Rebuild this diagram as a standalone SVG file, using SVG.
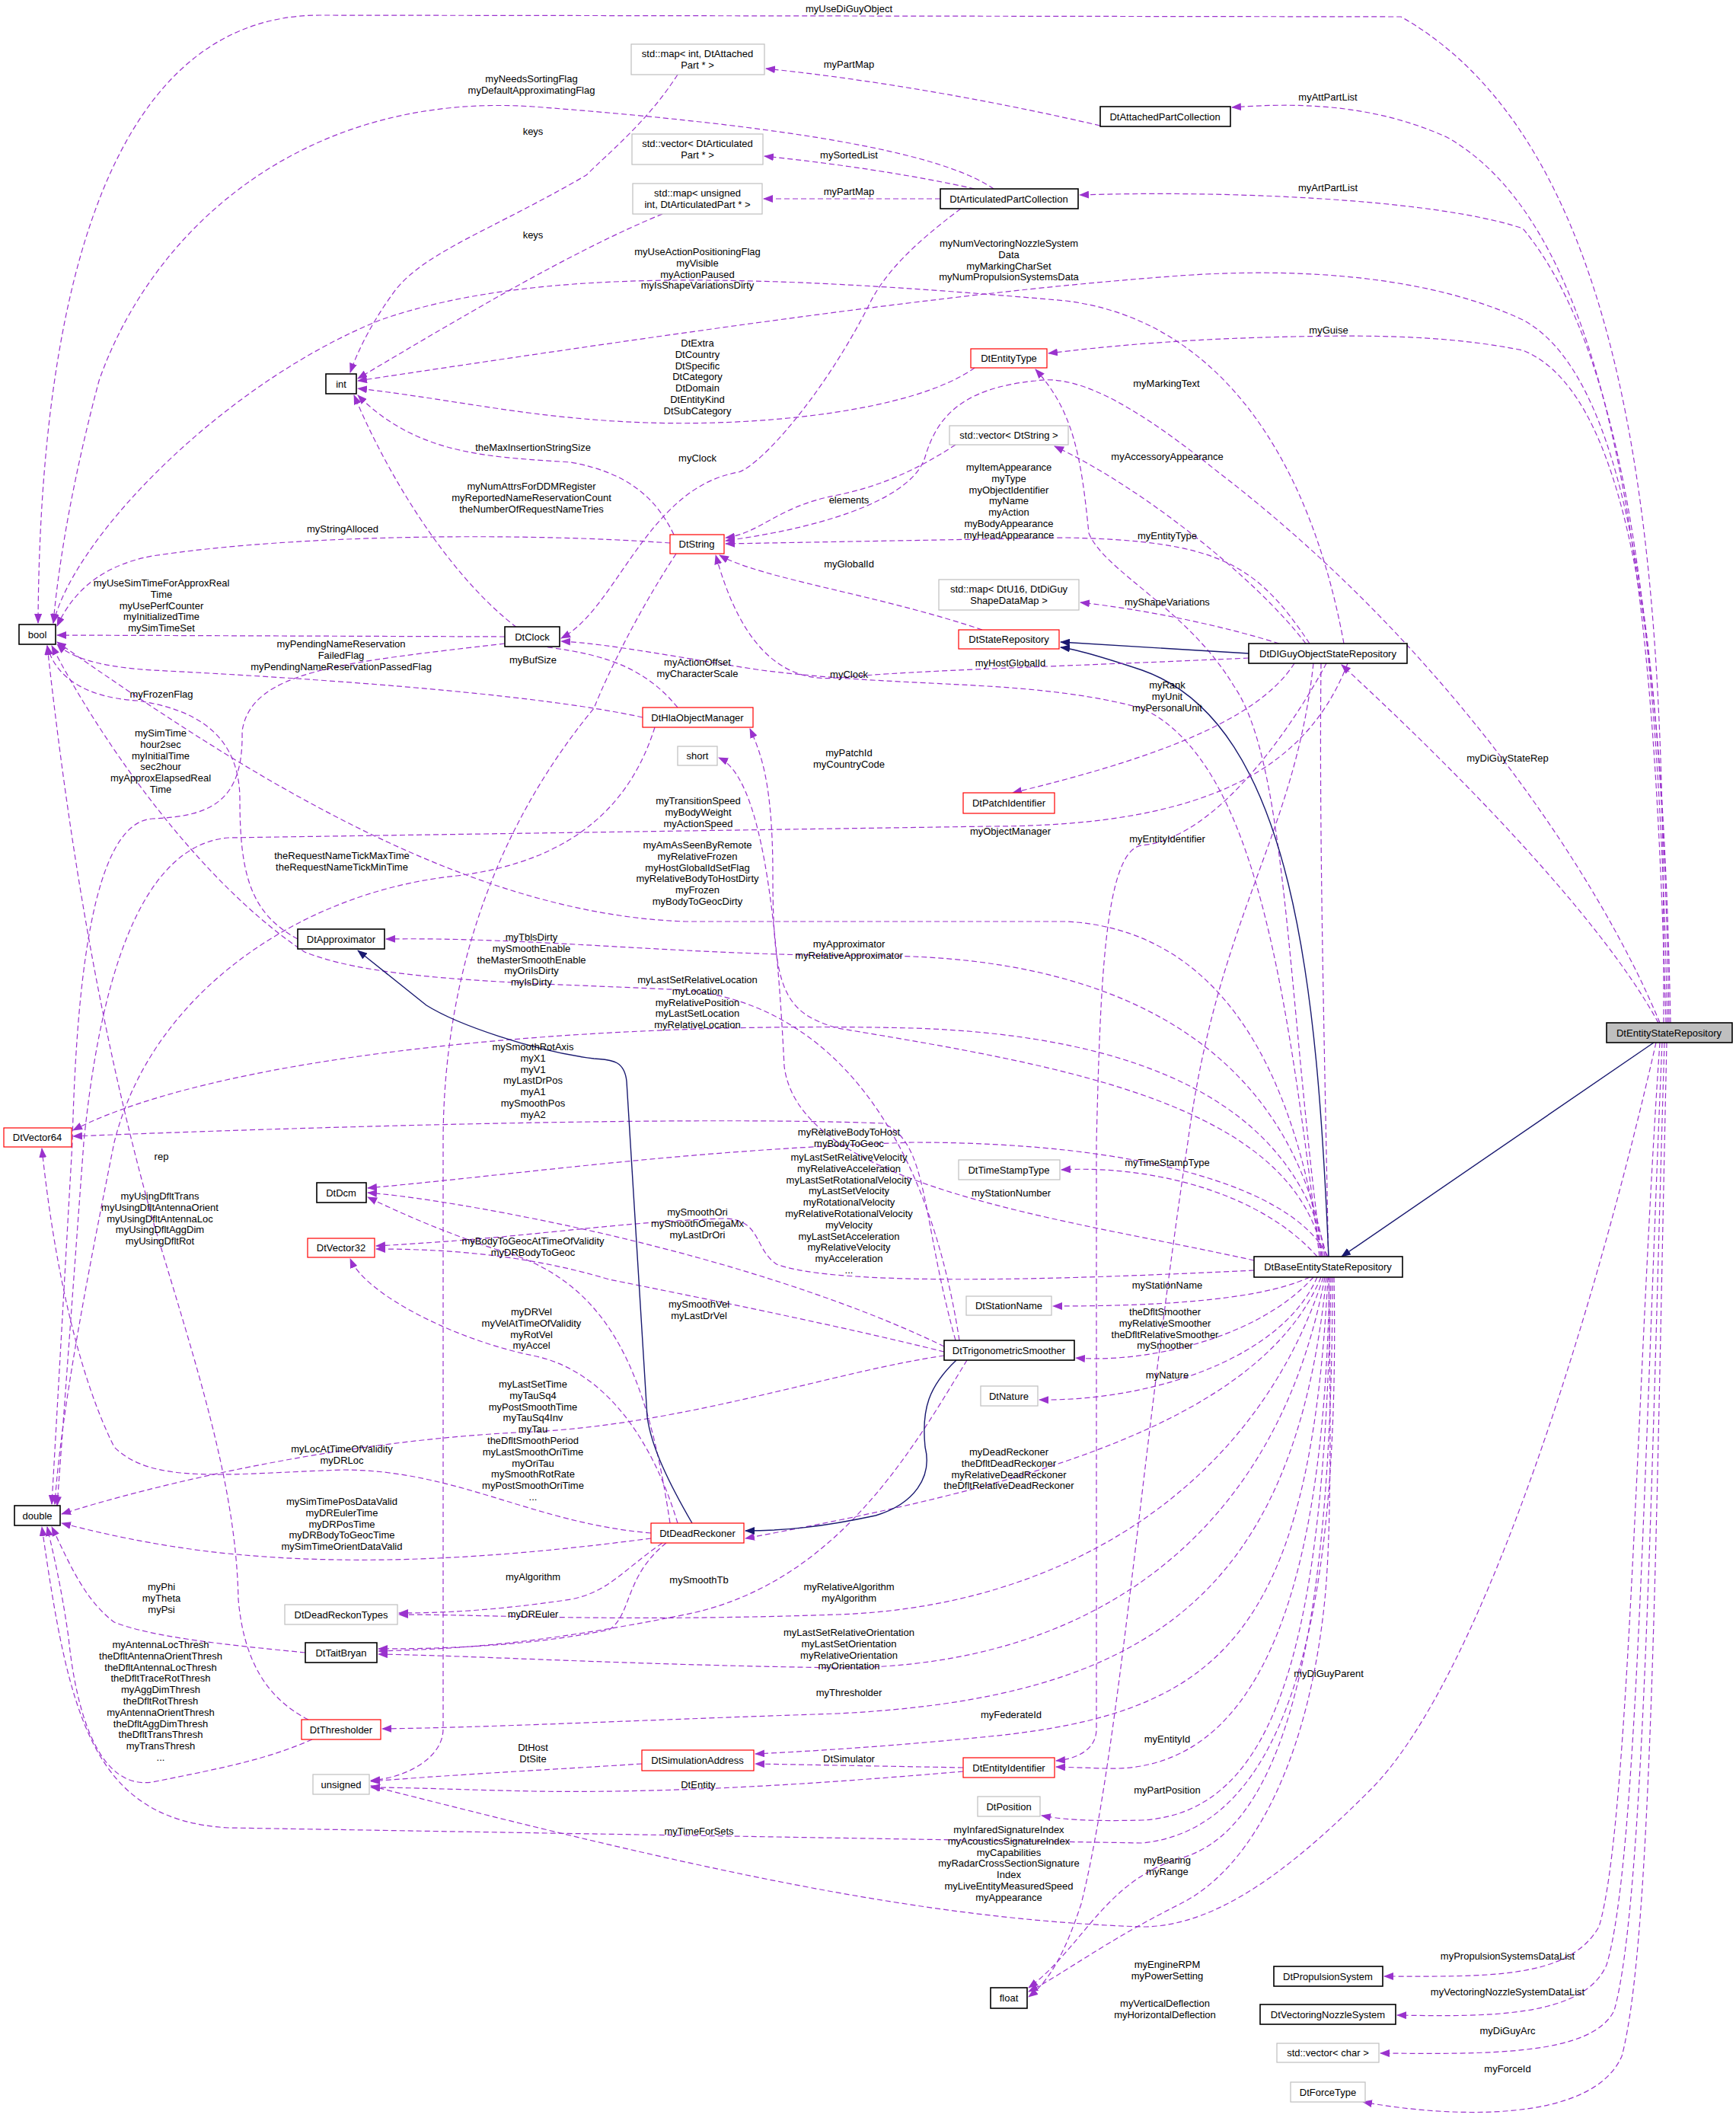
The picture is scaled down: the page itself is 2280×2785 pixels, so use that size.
<svg xmlns="http://www.w3.org/2000/svg" width="2280" height="2785" viewBox="0 0 2280 2785">
<style>
text{font-family:"Liberation Sans",Arial,sans-serif;font-size:13px;fill:#000}
.l{text-anchor:middle}
.n text{text-anchor:middle}
.bk{fill:#fff;stroke:#000;stroke-width:1.6}
.rd{fill:#fff;stroke:#ff0000;stroke-width:1.2}
.gy{fill:#fff;stroke:#bfbfbf;stroke-width:1.2}
.cur{fill:#bfbfbf;stroke:#000;stroke-width:1.6}
.e{fill:none;stroke:#9a32cd;stroke-width:1.2;stroke-dasharray:7,4;marker-end:url(#a)}
.i{fill:none;stroke:#191970;stroke-width:1.4;marker-end:url(#nv)}
</style>
<defs>
<marker id="a" markerUnits="userSpaceOnUse" markerWidth="13" markerHeight="10" refX="12" refY="5" orient="auto"><path d="M0,0 L13,5 L0,10 z" fill="#9a32cd"/></marker>
<marker id="nv" markerUnits="userSpaceOnUse" markerWidth="13" markerHeight="10" refX="12" refY="5" orient="auto"><path d="M0,0 L13,5 L0,10 z" fill="#191970"/></marker>
</defs>
<rect width="2280" height="2785" fill="#fff"/>
<g id="connectors">
<path class="e" d="M2185,1343 C2185,900 2190,220 1840,22 L420,20 C120,20 52,450 50,818"/>
<path class="e" d="M2188,1343 C2175,900 2150,320 1900,180 C1800,135 1700,135 1618,141"/>
<path class="e" d="M2190,1343 C2180,900 2150,480 2000,300 C1880,260 1600,250 1418,256"/>
<path class="e" d="M2192,1343 C2185,900 2150,500 2000,420 C1850,350 1650,355 1550,362 C1300,380 1000,420 470,500"/>
<path class="e" d="M2194,1343 C2185,900 2150,520 2000,460 C1900,440 1800,440 1700,442 C1550,445 1450,455 1377,464"/>
<path class="e" d="M2180,1343 C2100,1150 1900,850 1600,620 C1500,540 1420,490 1360,500 C1260,510 1230,550 1215,600 C1200,650 1100,690 953,710"/>
<path class="e" d="M2178,1343 C2100,1200 1900,1000 1762,873"/>
<path class="i" d="M2172,1369 L1762,1650"/>
<path class="e" d="M2180,1369 C2150,1800 2140,2400 2100,2530 C2060,2600 1950,2595 1818,2595"/>
<path class="e" d="M2183,1369 C2160,1900 2150,2450 2110,2580 C2080,2650 1950,2648 1835,2646"/>
<path class="e" d="M2186,1369 C2170,1900 2160,2500 2120,2640 C2090,2700 1950,2697 1813,2696"/>
<path class="e" d="M2189,1369 C2175,2000 2170,2550 2130,2700 C2090,2790 1900,2780 1790,2760"/>
<path class="e" d="M2175,1369 C2100,1700 1950,2200 1800,2350 C1700,2450 1600,2530 1500,2530 C1200,2520 900,2450 487,2345"/>
<path class="e" d="M1735,871 C1730,1300 1760,1900 1740,2100 C1720,2300 1650,2450 1550,2500 C1450,2550 1400,2590 1351,2615"/>
<path class="e" d="M1725,871 C1700,1100 1600,1200 1560,1500 C1500,1900 1470,2300 1420,2500 C1400,2560 1380,2600 1351,2622"/>
<path class="e" d="M1735,1650 C1700,1400 1600,1220 1400,1210 L900,1210 C600,1200 300,1000 75,843"/>
<path class="e" d="M1738,1650 C1700,1450 1400,1400 1100,1350 C1030,1330 1015,1300 1015,1150 C1015,1030 1000,990 985,957"/>
<path class="e" d="M1740,1650 C1700,1400 1500,1255 1150,1255 C900,1255 700,1230 507,1233"/>
<path class="e" d="M1742,1650 C1700,1450 1500,1360 1200,1350 C800,1340 300,1380 96,1484"/>
<path class="e" d="M1744,1650 C1700,1560 1500,1500 1200,1500 C900,1510 700,1540 483,1560"/>
<path class="e" d="M1647,1668 C1400,1680 1100,1690 1020,1660 C990,1640 1000,1600 950,1600 C800,1605 700,1625 494,1636"/>
<path class="e" d="M1730,1650 C1650,1560 1500,1530 1394,1536"/>
<path class="e" d="M1647,1655 C1400,1600 1050,1560 1030,1400 C1020,1200 1000,1020 944,995"/>
<path class="e" d="M1720,1677 C1650,1710 1500,1715 1383,1715"/>
<path class="e" d="M1725,1677 C1650,1760 1500,1790 1413,1783"/>
<path class="e" d="M1730,1677 C1680,1790 1500,1840 1365,1838"/>
<path class="e" d="M1735,1677 C1650,1880 1300,1960 979,2020"/>
<path class="e" d="M1738,1677 C1650,1950 1400,2110 1100,2120 C800,2130 650,2120 524,2120"/>
<path class="e" d="M1740,1677 C1680,2000 1450,2190 1100,2190 C800,2185 650,2175 497,2172"/>
<path class="e" d="M1742,1677 C1700,2100 1500,2230 1100,2250 C800,2260 650,2268 502,2270"/>
<path class="e" d="M1744,1677 C1720,2150 1600,2250 1300,2280 C1150,2295 1050,2300 992,2303"/>
<path class="e" d="M1746,1677 C1740,2100 1650,2330 1450,2322 L1387,2320"/>
<path class="e" d="M1748,1677 C1740,2150 1680,2380 1500,2390 C1420,2392 1390,2388 1368,2384"/>
<path class="e" d="M1750,1677 C1750,2100 1700,2400 1550,2440 C1450,2470 1420,2560 1351,2610"/>
<path class="e" d="M1752,1677 C1760,2100 1700,2400 1500,2420 L300,2400 C120,2390 90,2250 55,2005"/>
<path class="e" d="M1736,1650 C1690,1300 1690,1000 1620,900 C1560,800 1450,750 1430,700 C1420,600 1410,540 1360,485"/>
<path class="e" d="M1733,1650 C1690,1300 1650,1000 1500,930 C1350,890 1200,905 1000,880 C900,865 800,845 737,842"/>
<path class="i" d="M1745,1650 C1730,1300 1700,950 1500,880 C1440,860 1410,852 1393,850"/>
<path class="i" d="M1640,858 L1393,843"/>
<path class="e" d="M1680,845 C1600,820 1500,800 1419,791"/>
<path class="e" d="M1765,845 C1720,600 1600,420 1400,395 C1000,360 700,350 500,420 C300,500 100,700 70,818"/>
<path class="e" d="M1720,845 C1650,740 1600,710 1400,706 L953,714"/>
<path class="e" d="M1715,845 C1650,760 1500,640 1385,586"/>
<path class="e" d="M1700,871 C1650,950 1500,1000 1330,1041"/>
<path class="e" d="M1742,871 C1700,950 1600,1100 1500,1110 C1450,1115 1445,1300 1440,1500 L1440,2270 C1440,2300 1410,2310 1387,2312"/>
<path class="e" d="M1640,864 C1400,875 1200,880 1100,890 C1000,900 960,800 940,729"/>
<path class="e" d="M1770,871 C1720,1000 1600,1085 1300,1085 L300,1100 C180,1110 130,1300 110,1500 L75,1977"/>
<path class="e" d="M1445,165 C1250,120 1100,100 1006,90"/>
<path class="e" d="M1280,248 C1200,230 1100,215 1004,205"/>
<path class="e" d="M1235,261 L1003,261"/>
<path class="e" d="M1305,248 C1250,210 1100,170 700,140 C400,120 200,300 130,500 C90,650 75,760 70,818"/>
<path class="e" d="M1262,274 C1200,320 1160,360 1140,403 C1080,520 1000,610 970,620 C850,640 810,800 737,838"/>
<path class="e" d="M890,98 C850,160 800,200 770,230 C650,300 560,330 520,380 C490,420 470,460 460,489"/>
<path class="e" d="M870,281 C750,330 600,420 470,497"/>
<path class="e" d="M1280,483 C1200,540 1000,560 850,555 C700,550 600,525 470,510"/>
<path class="e" d="M885,702 C860,650 820,620 750,607 C650,600 550,600 470,519"/>
<path class="e" d="M890,929 C850,880 800,860 720,850 C620,800 520,650 465,519"/>
<path class="e" d="M1255,584 C1200,620 1150,640 1100,650 C1020,665 1000,700 953,706"/>
<path class="e" d="M1290,827 C1150,780 1000,760 945,729"/>
<path class="e" d="M880,713 C700,700 400,700 200,730 C120,745 90,790 75,822"/>
<path class="e" d="M663,836 L75,834"/>
<path class="e" d="M844,942 C700,910 400,890 200,880 C120,875 90,860 75,846"/>
<path class="e" d="M888,727 C840,800 800,880 780,930 C640,1100 582,1300 582,1500 L582,2270 C582,2310 530,2335 487,2338"/>
<path class="e" d="M663,845 C450,870 330,880 318,960 C320,1050 280,1072 200,1075 C120,1080 100,1300 95,1500 L68,1975"/>
<path class="e" d="M860,955 C830,1050 760,1130 600,1150 C400,1170 200,1300 150,1500 C120,1650 80,1850 72,1975"/>
<path class="e" d="M391,1233 C330,1200 315,1150 315,1050 C315,960 250,930 180,920 C100,915 70,880 62,848"/>
<path class="e" d="M1260,1760 C1220,1500 1100,1320 900,1300 C700,1290 500,1290 400,1250 C250,1150 120,950 68,848"/>
<path class="e" d="M1255,1760 C1210,1600 1220,1500 1160,1475 C900,1465 400,1480 96,1492"/>
<path class="e" d="M1240,1768 C1100,1700 900,1640 700,1600 C600,1580 530,1570 483,1566"/>
<path class="e" d="M1240,1775 C1100,1740 900,1700 800,1680 C700,1650 600,1640 494,1640"/>
<path class="e" d="M1240,1780 C1100,1800 900,1870 700,1880 C450,1890 200,1950 81,1988"/>
<path class="e" d="M1270,1786 C1200,1900 1100,2080 900,2120 C700,2160 600,2165 497,2168"/>
<path class="e" d="M855,2013 C700,2000 600,1930 450,1930 C300,1935 200,1950 150,1900 C100,1800 70,1650 55,1508"/>
<path class="e" d="M855,2020 C700,2040 500,2060 300,2040 C200,2030 120,2010 81,2000"/>
<path class="e" d="M880,2000 C850,1800 800,1680 650,1640 C560,1610 500,1580 483,1572"/>
<path class="e" d="M890,2000 C860,1900 800,1800 700,1780 C600,1760 480,1700 460,1653"/>
<path class="e" d="M870,2026 C820,2060 800,2090 750,2100 C650,2115 580,2118 524,2118"/>
<path class="e" d="M875,2026 C820,2070 830,2120 800,2140 C700,2160 600,2165 497,2165"/>
<path class="i" d="M909,2000 C880,1950 855,1900 850,1860 L823,1420 C820,1390 800,1392 780,1390 C700,1380 600,1345 560,1320 L470,1248"/>
<path class="i" d="M1256,1786 C1220,1820 1210,1850 1215,1900 C1225,1940 1200,1975 1150,1990 C1080,2005 1030,2010 979,2010"/>
<path class="e" d="M401,2170 C300,2160 200,2150 150,2130 C110,2100 90,2050 68,2005"/>
<path class="e" d="M410,2284 C350,2310 300,2320 200,2340 C130,2350 100,2250 90,2150 C80,2080 70,2040 62,2005"/>
<path class="e" d="M405,2258 C350,2230 320,2180 313,2100 C310,1950 260,1800 200,1600 C130,1350 90,1100 62,848"/>
<path class="e" d="M843,2316 C700,2325 600,2330 487,2339"/>
<path class="e" d="M1265,2321 L992,2316"/>
<path class="e" d="M1265,2326 C1100,2340 900,2355 700,2352 C600,2350 540,2347 487,2347"/>
</g>
<g id="labels" class="l">
<text class="l" x="1115" y="16">myUseDiGuyObject</text>
<text class="l" x="1115" y="89">myPartMap</text>
<text class="l" x="698" y="108">myNeedsSortingFlag<tspan x="698" dy="14.8">myDefaultApproximatingFlag</tspan></text>
<text class="l" x="700" y="177">keys</text>
<text class="l" x="1115" y="208">mySortedList</text>
<text class="l" x="1115" y="256">myPartMap</text>
<text class="l" x="700" y="313">keys</text>
<text class="l" x="1325" y="324">myNumVectoringNozzleSystem<tspan x="1325" dy="14.8">Data</tspan><tspan x="1325" dy="14.8">myMarkingCharSet</tspan><tspan x="1325" dy="14.8">myNumPropulsionSystemsData</tspan></text>
<text class="l" x="916" y="335">myUseActionPositioningFlag<tspan x="916" dy="14.8">myVisible</tspan><tspan x="916" dy="14.8">myActionPaused</tspan><tspan x="916" dy="14.8">myIsShapeVariationsDirty</tspan></text>
<text class="l" x="1744" y="132">myAttPartList</text>
<text class="l" x="1744" y="251">myArtPartList</text>
<text class="l" x="1745" y="438">myGuise</text>
<text class="l" x="916" y="455">DtExtra<tspan x="916" dy="14.8">DtCountry</tspan><tspan x="916" dy="14.8">DtSpecific</tspan><tspan x="916" dy="14.8">DtCategory</tspan><tspan x="916" dy="14.8">DtDomain</tspan><tspan x="916" dy="14.8">DtEntityKind</tspan><tspan x="916" dy="14.8">DtSubCategory</tspan></text>
<text class="l" x="1532" y="508">myMarkingText</text>
<text class="l" x="700" y="592">theMaxInsertionStringSize</text>
<text class="l" x="916" y="606">myClock</text>
<text class="l" x="1533" y="604">myAccessoryAppearance</text>
<text class="l" x="1325" y="618">myItemAppearance<tspan x="1325" dy="14.8">myType</tspan><tspan x="1325" dy="14.8">myObjectIdentifier</tspan><tspan x="1325" dy="14.8">myName</tspan><tspan x="1325" dy="14.8">myAction</tspan><tspan x="1325" dy="14.8">myBodyAppearance</tspan><tspan x="1325" dy="14.8">myHeadAppearance</tspan></text>
<text class="l" x="698" y="643">myNumAttrsForDDMRegister<tspan x="698" dy="14.8">myReportedNameReservationCount</tspan><tspan x="698" dy="14.8">theNumberOfRequestNameTries</tspan></text>
<text class="l" x="1115" y="661">elements</text>
<text class="l" x="450" y="699">myStringAlloced</text>
<text class="l" x="1533" y="708">myEntityType</text>
<text class="l" x="1115" y="745">myGlobalId</text>
<text class="l" x="212" y="770">myUseSimTimeForApproxReal<tspan x="212" dy="14.8">Time</tspan><tspan x="212" dy="14.8">myUsePerfCounter</tspan><tspan x="212" dy="14.8">myInitializedTime</tspan><tspan x="212" dy="14.8">mySimTimeSet</tspan></text>
<text class="l" x="1533" y="795">myShapeVariations</text>
<text class="l" x="448" y="850">myPendingNameReservation<tspan x="448" dy="14.8">FailedFlag</tspan><tspan x="448" dy="14.8">myPendingNameReservationPassedFlag</tspan></text>
<text class="l" x="700" y="871">myBufSize</text>
<text class="l" x="916" y="874">myActionOffset<tspan x="916" dy="14.8">myCharacterScale</tspan></text>
<text class="l" x="1327" y="875">myHostGlobalId</text>
<text class="l" x="1115" y="890">myClock</text>
<text class="l" x="1533" y="904">myRank<tspan x="1533" dy="14.8">myUnit</tspan><tspan x="1533" dy="14.8">myPersonalUnit</tspan></text>
<text class="l" x="212" y="916">myFrozenFlag</text>
<text class="l" x="211" y="967">mySimTime<tspan x="211" dy="14.8">hour2sec</tspan><tspan x="211" dy="14.8">myInitialTime</tspan><tspan x="211" dy="14.8">sec2hour</tspan><tspan x="211" dy="14.8">myApproxElapsedReal</tspan><tspan x="211" dy="14.8">Time</tspan></text>
<text class="l" x="1980" y="1000">myDiGuyStateRep</text>
<text class="l" x="1115" y="993">myPatchId<tspan x="1115" dy="14.8">myCountryCode</tspan></text>
<text class="l" x="917" y="1056">myTransitionSpeed<tspan x="917" dy="14.8">myBodyWeight</tspan><tspan x="917" dy="14.8">myActionSpeed</tspan></text>
<text class="l" x="1327" y="1096">myObjectManager</text>
<text class="l" x="1533" y="1106">myEntityIdentifier</text>
<text class="l" x="916" y="1114">myAmAsSeenByRemote<tspan x="916" dy="14.8">myRelativeFrozen</tspan><tspan x="916" dy="14.8">myHostGlobalIdSetFlag</tspan><tspan x="916" dy="14.8">myRelativeBodyToHostDirty</tspan><tspan x="916" dy="14.8">myFrozen</tspan><tspan x="916" dy="14.8">myBodyToGeocDirty</tspan></text>
<text class="l" x="449" y="1128">theRequestNameTickMaxTime<tspan x="449" dy="14.8">theRequestNameTickMinTime</tspan></text>
<text class="l" x="698" y="1235">myTblsDirty<tspan x="698" dy="14.8">mySmoothEnable</tspan><tspan x="698" dy="14.8">theMasterSmoothEnable</tspan><tspan x="698" dy="14.8">myOriIsDirty</tspan><tspan x="698" dy="14.8">myIsDirty</tspan></text>
<text class="l" x="1115" y="1244">myApproximator<tspan x="1115" dy="14.8">myRelativeApproximator</tspan></text>
<text class="l" x="916" y="1291">myLastSetRelativeLocation<tspan x="916" dy="14.8">myLocation</tspan><tspan x="916" dy="14.8">myRelativePosition</tspan><tspan x="916" dy="14.8">myLastSetLocation</tspan><tspan x="916" dy="14.8">myRelativeLocation</tspan></text>
<text class="l" x="700" y="1379">mySmoothRotAxis<tspan x="700" dy="14.8">myX1</tspan><tspan x="700" dy="14.8">myV1</tspan><tspan x="700" dy="14.8">myLastDrPos</tspan><tspan x="700" dy="14.8">myA1</tspan><tspan x="700" dy="14.8">mySmoothPos</tspan><tspan x="700" dy="14.8">myA2</tspan></text>
<text class="l" x="1115" y="1491">myRelativeBodyToHost<tspan x="1115" dy="14.8">myBodyToGeoc</tspan></text>
<text class="l" x="212" y="1523">rep</text>
<text class="l" x="1115" y="1524">myLastSetRelativeVelocity<tspan x="1115" dy="14.8">myRelativeAcceleration</tspan><tspan x="1115" dy="14.8">myLastSetRotationalVelocity</tspan><tspan x="1115" dy="14.8">myLastSetVelocity</tspan><tspan x="1115" dy="14.8">myRotationalVelocity</tspan><tspan x="1115" dy="14.8">myRelativeRotationalVelocity</tspan><tspan x="1115" dy="14.8">myVelocity</tspan><tspan x="1115" dy="14.8">myLastSetAcceleration</tspan><tspan x="1115" dy="14.8">myRelativeVelocity</tspan><tspan x="1115" dy="14.8">myAcceleration</tspan><tspan x="1115" dy="14.8">...</tspan></text>
<text class="l" x="1533" y="1531">myTimeStampType</text>
<text class="l" x="1328" y="1571">myStationNumber</text>
<text class="l" x="210" y="1575">myUsingDfltTrans<tspan x="210" dy="14.8">myUsingDfltAntennaOrient</tspan><tspan x="210" dy="14.8">myUsingDfltAntennaLoc</tspan><tspan x="210" dy="14.8">myUsingDfltAggDim</tspan><tspan x="210" dy="14.8">myUsingDfltRot</tspan></text>
<text class="l" x="916" y="1596">mySmoothOri<tspan x="916" dy="14.8">mySmoothOmegaMx</tspan><tspan x="916" dy="14.8">myLastDrOri</tspan></text>
<text class="l" x="700" y="1634">myBodyToGeocAtTimeOfValidity<tspan x="700" dy="14.8">myDRBodyToGeoc</tspan></text>
<text class="l" x="1533" y="1692">myStationName</text>
<text class="l" x="918" y="1717">mySmoothVel<tspan x="918" dy="14.8">myLastDrVel</tspan></text>
<text class="l" x="698" y="1727">myDRVel<tspan x="698" dy="14.8">myVelAtTimeOfValidity</tspan><tspan x="698" dy="14.8">myRotVel</tspan><tspan x="698" dy="14.8">myAccel</tspan></text>
<text class="l" x="1530" y="1727">theDfltSmoother<tspan x="1530" dy="14.8">myRelativeSmoother</tspan><tspan x="1530" dy="14.8">theDfltRelativeSmoother</tspan><tspan x="1530" dy="14.8">mySmoother</tspan></text>
<text class="l" x="1533" y="1810">myNature</text>
<text class="l" x="700" y="1822">myLastSetTime<tspan x="700" dy="14.8">myTauSq4</tspan><tspan x="700" dy="14.8">myPostSmoothTime</tspan><tspan x="700" dy="14.8">myTauSq4Inv</tspan><tspan x="700" dy="14.8">myTau</tspan><tspan x="700" dy="14.8">theDfltSmoothPeriod</tspan><tspan x="700" dy="14.8">myLastSmoothOriTime</tspan><tspan x="700" dy="14.8">myOriTau</tspan><tspan x="700" dy="14.8">mySmoothRotRate</tspan><tspan x="700" dy="14.8">myPostSmoothOriTime</tspan><tspan x="700" dy="14.8">...</tspan></text>
<text class="l" x="449" y="1907">myLocAtTimeOfValidity<tspan x="449" dy="14.8">myDRLoc</tspan></text>
<text class="l" x="1325" y="1911">myDeadReckoner<tspan x="1325" dy="14.8">theDfltDeadReckoner</tspan><tspan x="1325" dy="14.8">myRelativeDeadReckoner</tspan><tspan x="1325" dy="14.8">theDfltRelativeDeadReckoner</tspan></text>
<text class="l" x="449" y="1976">mySimTimePosDataValid<tspan x="449" dy="14.8">myDREulerTime</tspan><tspan x="449" dy="14.8">myDRPosTime</tspan><tspan x="449" dy="14.8">myDRBodyToGeocTime</tspan><tspan x="449" dy="14.8">mySimTimeOrientDataValid</tspan></text>
<text class="l" x="700" y="2075">myAlgorithm</text>
<text class="l" x="918" y="2079">mySmoothTb</text>
<text class="l" x="1115" y="2088">myRelativeAlgorithm<tspan x="1115" dy="14.8">myAlgorithm</tspan></text>
<text class="l" x="212" y="2088">myPhi<tspan x="212" dy="14.8">myTheta</tspan><tspan x="212" dy="14.8">myPsi</tspan></text>
<text class="l" x="700" y="2124">myDREuler</text>
<text class="l" x="1115" y="2148">myLastSetRelativeOrientation<tspan x="1115" dy="14.8">myLastSetOrientation</tspan><tspan x="1115" dy="14.8">myRelativeOrientation</tspan><tspan x="1115" dy="14.8">myOrientation</tspan></text>
<text class="l" x="211" y="2164">myAntennaLocThresh<tspan x="211" dy="14.8">theDfltAntennaOrientThresh</tspan><tspan x="211" dy="14.8">theDfltAntennaLocThresh</tspan><tspan x="211" dy="14.8">theDfltTraceRotThresh</tspan><tspan x="211" dy="14.8">myAggDimThresh</tspan><tspan x="211" dy="14.8">theDfltRotThresh</tspan><tspan x="211" dy="14.8">myAntennaOrientThresh</tspan><tspan x="211" dy="14.8">theDfltAggDimThresh</tspan><tspan x="211" dy="14.8">theDfltTransThresh</tspan><tspan x="211" dy="14.8">myTransThresh</tspan><tspan x="211" dy="14.8">...</tspan></text>
<text class="l" x="1745" y="2202">myDiGuyParent</text>
<text class="l" x="1115" y="2227">myThresholder</text>
<text class="l" x="1328" y="2256">myFederateId</text>
<text class="l" x="1533" y="2288">myEntityId</text>
<text class="l" x="700" y="2299">DtHost<tspan x="700" dy="14.8">DtSite</tspan></text>
<text class="l" x="1115" y="2314">DtSimulator</text>
<text class="l" x="917" y="2348">DtEntity</text>
<text class="l" x="1533" y="2355">myPartPosition</text>
<text class="l" x="1325" y="2407">myInfaredSignatureIndex<tspan x="1325" dy="14.8">myAcousticsSignatureIndex</tspan><tspan x="1325" dy="14.8">myCapabilities</tspan><tspan x="1325" dy="14.8">myRadarCrossSectionSignature</tspan><tspan x="1325" dy="14.8">Index</tspan><tspan x="1325" dy="14.8">myLiveEntityMeasuredSpeed</tspan><tspan x="1325" dy="14.8">myAppearance</tspan></text>
<text class="l" x="918" y="2409">myTimeForSets</text>
<text class="l" x="1533" y="2447">myBearing<tspan x="1533" dy="14.8">myRange</tspan></text>
<text class="l" x="1980" y="2573">myPropulsionSystemsDataList</text>
<text class="l" x="1533" y="2584">myEngineRPM<tspan x="1533" dy="14.8">myPowerSetting</tspan></text>
<text class="l" x="1980" y="2620">myVectoringNozzleSystemDataList</text>
<text class="l" x="1530" y="2635">myVerticalDeflection<tspan x="1530" dy="14.8">myHorizontalDeflection</tspan></text>
<text class="l" x="1980" y="2671">myDiGuyArc</text>
<text class="l" x="1980" y="2721">myForceId</text>
</g>
<g class="n">
<g id="mapAtt"><rect class="gy" x="829" y="58" width="175" height="40"/><text x="916" y="75">std::map&lt; int, DtAttached</text><text x="916" y="90">Part * &gt;</text></g>
<g id="vecArt"><rect class="gy" x="830" y="176" width="172" height="40"/><text x="916" y="193">std::vector&lt; DtArticulated</text><text x="916" y="208">Part * &gt;</text></g>
<g id="mapUns"><rect class="gy" x="831" y="241" width="170" height="40"/><text x="916" y="258">std::map&lt; unsigned</text><text x="916" y="273"> int, DtArticulatedPart * &gt;</text></g>
<g id="int"><rect class="bk" x="428" y="491" width="40" height="26"/><text x="448" y="509">int</text></g>
<g id="DtString"><rect class="rd" x="880" y="702" width="71" height="25"/><text x="915" y="719">DtString</text></g>
<g id="bool"><rect class="bk" x="25" y="820" width="48" height="26"/><text x="49" y="838">bool</text></g>
<g id="DtClock"><rect class="bk" x="663" y="823" width="72" height="26"/><text x="699" y="841">DtClock</text></g>
<g id="DtAttachedPartCollection"><rect class="bk" x="1445" y="140" width="171" height="26"/><text x="1530" y="158">DtAttachedPartCollection</text></g>
<g id="DtArticulatedPartCollection"><rect class="bk" x="1235" y="248" width="181" height="26"/><text x="1325" y="266">DtArticulatedPartCollection</text></g>
<g id="DtEntityType"><rect class="rd" x="1275" y="458" width="100" height="25"/><text x="1325" y="475">DtEntityType</text></g>
<g id="vecStr"><rect class="gy" x="1247" y="559" width="156" height="25"/><text x="1325" y="576">std::vector&lt; DtString &gt;</text></g>
<g id="mapU16"><rect class="gy" x="1233" y="761" width="184" height="40"/><text x="1325" y="778">std::map&lt; DtU16, DtDiGuy</text><text x="1325" y="793">ShapeDataMap &gt;</text></g>
<g id="DtStateRepository"><rect class="rd" x="1259" y="827" width="132" height="25"/><text x="1325" y="844">DtStateRepository</text></g>
<g id="DtDIGuyObjectStateRepository"><rect class="bk" x="1640" y="845" width="208" height="26"/><text x="1744" y="863">DtDIGuyObjectStateRepository</text></g>
<g id="DtHlaObjectManager"><rect class="rd" x="844" y="929" width="145" height="26"/><text x="916" y="947">DtHlaObjectManager</text></g>
<g id="short"><rect class="gy" x="890" y="980" width="52" height="25"/><text x="916" y="997">short</text></g>
<g id="DtApproximator"><rect class="bk" x="391" y="1220" width="114" height="26"/><text x="448" y="1238">DtApproximator</text></g>
<g id="DtVector64"><rect class="rd" x="5" y="1481" width="89" height="25"/><text x="49" y="1498">DtVector64</text></g>
<g id="DtDcm"><rect class="bk" x="416" y="1553" width="65" height="26"/><text x="448" y="1571">DtDcm</text></g>
<g id="DtVector32"><rect class="rd" x="404" y="1626" width="88" height="25"/><text x="448" y="1643">DtVector32</text></g>
<g id="DtPatchIdentifier"><rect class="rd" x="1265" y="1041" width="120" height="27"/><text x="1325" y="1059">DtPatchIdentifier</text></g>
<g id="DtEntityStateRepository"><rect class="cur" x="2110" y="1343" width="165" height="26"/><text x="2192" y="1361">DtEntityStateRepository</text></g>
<g id="DtTimeStampType"><rect class="gy" x="1259" y="1523" width="133" height="26"/><text x="1325" y="1541">DtTimeStampType</text></g>
<g id="DtBaseEntityStateRepository"><rect class="bk" x="1647" y="1650" width="195" height="27"/><text x="1744" y="1668">DtBaseEntityStateRepository</text></g>
<g id="DtStationName"><rect class="gy" x="1269" y="1702" width="112" height="25"/><text x="1325" y="1719">DtStationName</text></g>
<g id="DtTrigonometricSmoother"><rect class="bk" x="1240" y="1760" width="171" height="26"/><text x="1325" y="1778">DtTrigonometricSmoother</text></g>
<g id="DtNature"><rect class="gy" x="1288" y="1820" width="75" height="26"/><text x="1325" y="1838">DtNature</text></g>
<g id="double"><rect class="bk" x="19" y="1977" width="60" height="26"/><text x="49" y="1995">double</text></g>
<g id="DtDeadReckoner"><rect class="rd" x="855" y="2000" width="122" height="26"/><text x="916" y="2018">DtDeadReckoner</text></g>
<g id="DtDeadReckonTypes"><rect class="gy" x="374" y="2107" width="148" height="26"/><text x="448" y="2125">DtDeadReckonTypes</text></g>
<g id="DtTaitBryan"><rect class="bk" x="401" y="2157" width="94" height="26"/><text x="448" y="2175">DtTaitBryan</text></g>
<g id="DtThresholder"><rect class="rd" x="396" y="2258" width="104" height="26"/><text x="448" y="2276">DtThresholder</text></g>
<g id="DtSimulationAddress"><rect class="rd" x="843" y="2298" width="147" height="27"/><text x="916" y="2316">DtSimulationAddress</text></g>
<g id="unsigned"><rect class="gy" x="411" y="2330" width="74" height="26"/><text x="448" y="2348">unsigned</text></g>
<g id="DtEntityIdentifier"><rect class="rd" x="1265" y="2308" width="120" height="26"/><text x="1325" y="2326">DtEntityIdentifier</text></g>
<g id="DtPosition"><rect class="gy" x="1284" y="2359" width="82" height="26"/><text x="1325" y="2377">DtPosition</text></g>
<g id="float"><rect class="bk" x="1301" y="2610" width="48" height="27"/><text x="1325" y="2628">float</text></g>
<g id="DtPropulsionSystem"><rect class="bk" x="1673" y="2582" width="143" height="26"/><text x="1744" y="2600">DtPropulsionSystem</text></g>
<g id="DtVectoringNozzleSystem"><rect class="bk" x="1655" y="2632" width="178" height="26"/><text x="1744" y="2650">DtVectoringNozzleSystem</text></g>
<g id="vecChar"><rect class="gy" x="1677" y="2683" width="134" height="25"/><text x="1744" y="2700">std::vector&lt; char &gt;</text></g>
<g id="DtForceType"><rect class="gy" x="1695" y="2734" width="98" height="26"/><text x="1744" y="2752">DtForceType</text></g>
</g>
</svg>
